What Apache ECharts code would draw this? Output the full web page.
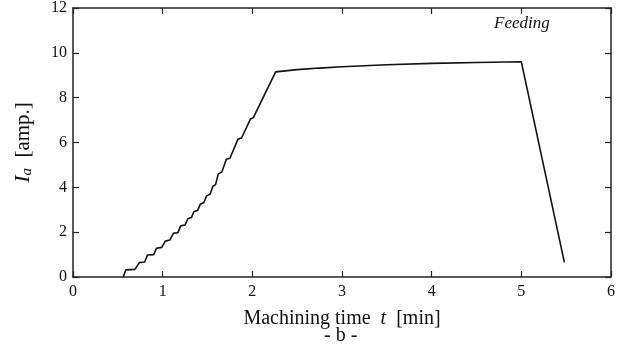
<!DOCTYPE html>
<html>
<head>
<meta charset="utf-8">
<script src="https://cdn.jsdelivr.net/npm/echarts@6/dist/echarts.min.js"></script>
<style>html,body{margin:0;padding:0;background:#fff}#c{width:629px;height:360px}</style>
</head>
<body>
<div id="c"></div>
<script>
var timeMin = [0.56,0.59,0.69,0.74,0.80,0.83,0.90,0.93,0.99,1.03,1.08,1.12,1.17,1.20,1.25,1.28,1.32,1.35,1.39,1.42,1.46,1.49,1.53,1.56,1.59,1.62,1.66,1.71,1.75,1.84,1.88,1.98,2.01,2.26,2.50,2.75,3.00,3.50,4.00,4.50,5.00,5.48];
var currentA = [0.00,0.32,0.34,0.64,0.67,0.98,1.00,1.28,1.32,1.60,1.65,1.95,1.98,2.28,2.32,2.60,2.65,2.92,2.97,3.25,3.32,3.62,3.70,4.05,4.12,4.60,4.68,5.25,5.30,6.15,6.20,7.05,7.10,9.15,9.25,9.32,9.38,9.47,9.53,9.57,9.60,0.65];
var xTicks = [0,1,2,3,4,5,6];
var yTicks = [0,2,4,6,8,10,12];

var chart = echarts.init(document.getElementById('c'));
var serif = '"Liberation Serif","DejaVu Serif",serif';
var axisCol = '#222';
var pts = timeMin.map(function(t,i){return [t, currentA[i]];});
var tickStyle = {show:true,inside:true,length:6,lineStyle:{color:axisCol,width:1.2}};
var lineSt = {show:true,onZero:false,lineStyle:{color:axisCol,width:1.5}};
chart.setOption({
  animation:false,
  backgroundColor:'#fff',
  title:[
    {text:'Feeding', left:489, top:10, textStyle:{fontFamily:serif, fontStyle:'italic', fontWeight:'normal', fontSize:17, color:'#111'}},
    {text:'- b -', left:324, top:321, padding:[5,0,5,0],
     textStyle:{fontFamily:serif, fontWeight:'normal', fontSize:20, color:'#111'}}
  ],
  grid:{left:73, right:18, top:8, bottom:83},
  xAxis:[{
    type:'value', min:xTicks[0], max:xTicks[xTicks.length-1], interval:1, position:'bottom',
    axisLine:lineSt, axisTick:tickStyle,
    axisLabel:{fontFamily:serif,fontSize:16,color:'#111',margin:7},
    splitLine:{show:false},
    name:'{n|Machining time  }{i|t}{n|  [min]}',
    nameLocation:'middle', nameGap:32,
    nameTextStyle:{fontFamily:serif,fontSize:20,color:'#111',
      rich:{n:{fontFamily:serif,fontSize:20,color:'#111'},i:{fontFamily:serif,fontStyle:'italic',fontSize:20,color:'#111'}}}
  },{
    type:'value', min:xTicks[0], max:xTicks[xTicks.length-1], interval:1, position:'top',
    axisLine:lineSt, axisTick:tickStyle,
    axisLabel:{show:false}, splitLine:{show:false}
  }],
  yAxis:[{
    type:'value', min:yTicks[0], max:yTicks[yTicks.length-1], interval:2, position:'left',
    axisLine:lineSt, axisTick:tickStyle,
    axisLabel:{fontFamily:serif,fontSize:16,color:'#111',margin:6},
    splitLine:{show:false},
    name:'{i|I}{s|a}{n|  [amp.]}',
    nameLocation:'middle', nameGap:38, nameRotate:90,
    nameTextStyle:{rich:{
      i:{fontFamily:serif,fontStyle:'italic',fontSize:22,color:'#111'},
      s:{fontFamily:serif,fontStyle:'italic',fontSize:15,color:'#111',verticalAlign:'bottom',padding:[9,0,0,0]},
      n:{fontFamily:serif,fontSize:21,color:'#111'}}}
  },{
    type:'value', min:yTicks[0], max:yTicks[yTicks.length-1], interval:2, position:'right',
    axisLine:lineSt, axisTick:tickStyle,
    axisLabel:{show:false}, splitLine:{show:false}
  }],
  series:[{
    type:'line', xAxisIndex:0, yAxisIndex:0, data:pts, showSymbol:false, symbol:'none',
    lineStyle:{color:'#111',width:1.6}
  }]
});
</script>
</body>
</html>
